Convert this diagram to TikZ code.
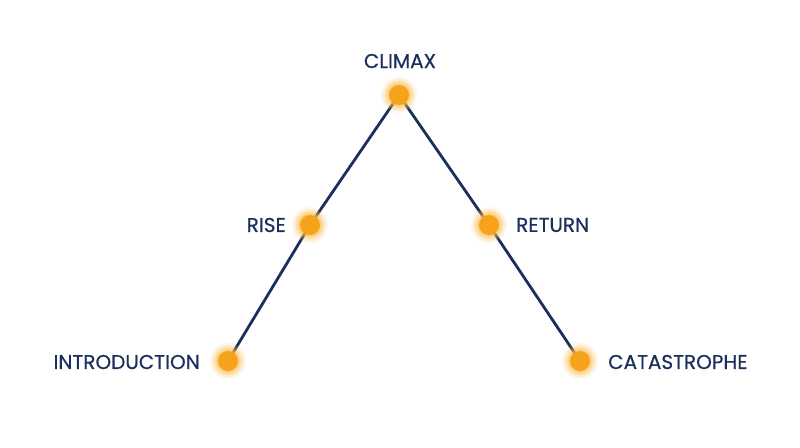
\documentclass[tikz,border=0pt]{standalone}
\usepackage{fontspec}
\newfontfamily\lblfont{Poppins}[FakeBold=0.5]
\definecolor{navy}{HTML}{1B2F5C}
\definecolor{dotcore}{HTML}{F7A21B}
\definecolor{dotglow}{HTML}{FBC35A}
\begin{document}
\begin{tikzpicture}[x=1pt,y=-1pt,
  lbl/.style={text=navy,font=\lblfont\fontsize{20}{22}\selectfont,inner sep=0pt},
  edge/.style={draw=navy,line width=2.8pt},
  dot/.pic={
    \foreach \r/\o in {18/0.12,16/0.2,14/0.3,12/0.45}{\fill[dotglow,opacity=\o] (0,0) circle (\r);}
    \fill[dotcore] (0,0) circle (10);
  }]
\useasboundingbox (0,0) rectangle (800,447);
\fill[white] (0,0) rectangle (800,447);
\coordinate (climax) at (399,95);
\coordinate (rise) at (310,225);
\coordinate (return) at (489,225);
\coordinate (intro) at (228,361);
\coordinate (cat) at (580,361);
\draw[edge] (intro) -- (rise) -- (climax) -- (return) -- (cat);
\foreach \p in {climax,rise,return,intro,cat}{\pic at (\p) {dot};}
\node[lbl] (tclimax) at (400,61) {CLIMAX};
\node[lbl,anchor=east] (trise) at (286,225) {RISE};
\node[lbl,anchor=west] (treturn) at (516,225) {RETURN};
\node[lbl,anchor=east] (tintro) at (200,362) {INTRODUCTION};
\node[lbl,anchor=west] (tcat) at (608,362) {CATASTROPHE};
\end{tikzpicture}
\end{document}
